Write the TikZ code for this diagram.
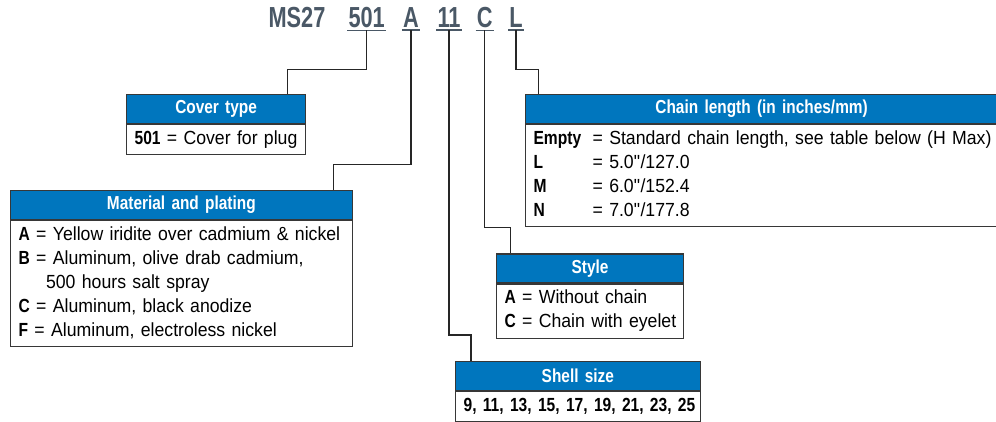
\documentclass[tikz,border=0pt]{standalone}
\usepackage{fontspec}
\setmainfont{Liberation Sans}[FakeStretch=0.93]
\newfontfamily\condfont{Liberation Sans}[FakeStretch=0.82]
\newfontfamily\codefont{Liberation Sans}[FakeStretch=0.75]
\definecolor{hdrblue}{RGB}{0,118,190}
\definecolor{codegray}{RGB}{74,88,102}
\definecolor{boxline}{RGB}{55,55,55}
\newcommand\keytxt[1]{{\condfont\bfseries #1}}

\begin{document}
\begin{tikzpicture}[x=1pt,y=-1pt,
  hdr/.style={draw=boxline,line width=1.2pt,fill=hdrblue,text=white,inner sep=0pt,
    minimum height=29pt,align=center,anchor=north west,
    font=\condfont\bfseries\fontsize{18.8}{20}\selectfont},
  bdy/.style={draw=boxline,line width=1.2pt,fill=white,inner xsep=8pt,inner ysep=0pt,
    align=left,anchor=north west,font=\fontsize{19}{24}\selectfont},
  code/.style={text=codegray,inner xsep=1pt,inner ysep=2.5pt,anchor=base,
    font=\codefont\bfseries\fontsize{29}{30}\selectfont},
  lead/.style={draw=black!85,line width=1.2pt}]
  \useasboundingbox (0,0) rectangle (996,421);

  % part number
  \node[code] (ms) at (297,27.5) {MS27};
  \foreach \n/\t/\x in {c501/501/366.7,cA/A/411,c11/11/449,cC/C/484.7,cL/L/516} {
    \node[code] (\n) at (\x,27.5) {\t};
    \draw[codegray,line width=1.5pt] (\n.south west) -- (\n.south east);
  }

  % boxes
  \node[hdr,text width=179pt] (cover) at (126,94) {Cover type};
  \node[bdy,text width=163pt,minimum height=30pt] (coverbody) at (cover.south west)
    {\begin{tabular}{@{}l@{}}\keytxt{501} = Cover for plug\end{tabular}};

  \node[hdr,text width=341.5pt] (mat) at (10,190) {Material and plating};
  \node[bdy,text width=325.5pt,minimum height=126pt] (matbody) at (mat.south west)
    {\begin{tabular}{@{}l@{}}
       \keytxt{A} = Yellow iridite over cadmium \& nickel\\
       \keytxt{B} = Aluminum, olive drab cadmium,\\
       \hspace*{27.5pt}500 hours salt spray\\
       \keytxt{C} = Aluminum, black anodize\\
       \keytxt{F} = Aluminum, electroless nickel
     \end{tabular}};

  \node[hdr,text width=472pt] (chain) at (525,94) {Chain length (in inches/mm)};
  \node[bdy,text width=456pt,minimum height=102pt] (chainbody) at (chain.south west)
    {\begin{tabular}{@{}p{59pt}@{}l@{}}
       \keytxt{Empty} & = Standard chain length, see table below (H Max)\\
       \keytxt{L} & = 5.0\textquotedbl/127.0\\
       \keytxt{M} & = 6.0\textquotedbl/152.4\\
       \keytxt{N} & = 7.0\textquotedbl/177.8
     \end{tabular}};

  \node[hdr,text width=187pt] (style) at (496,253.3) {Style};
  \node[bdy,text width=171pt,minimum height=54pt] (stylebody) at (style.south west)
    {\begin{tabular}{@{}l@{}}
       \keytxt{A} = Without chain\\
       \keytxt{C} = Chain with eyelet
     \end{tabular}};

  \node[hdr,text width=244.5pt] (shell) at (455,361) {Shell size};
  \node[bdy,text width=228.5pt,minimum height=30pt] (shellbody) at (shell.south west)
    {\begin{tabular}{@{}l@{}}\keytxt{9, 11, 13, 15, 17, 19, 21, 23, 25}\end{tabular}};

  % leaders
  \coordinate (k501) at (287.5,69.7);
  \coordinate (kA) at (333.7,164.5);
  \coordinate (kL) at (538.5,69.5);
  \coordinate (kC) at (510.7,227.7);
  \coordinate (k11) at (471,335);
  \draw[lead] (c501.south) |- (k501) -- (k501 |- cover.north);
  \draw[lead] (cA.south) |- (kA) -- (kA |- mat.north);
  \draw[lead] (cL.south) |- (kL) -- (kL |- chain.north);
  \draw[lead] (cC.south) |- (kC) -- (kC |- style.north);
  \draw[lead] (c11.south) |- (k11) -- (k11 |- shell.north);
\end{tikzpicture}
\end{document}
